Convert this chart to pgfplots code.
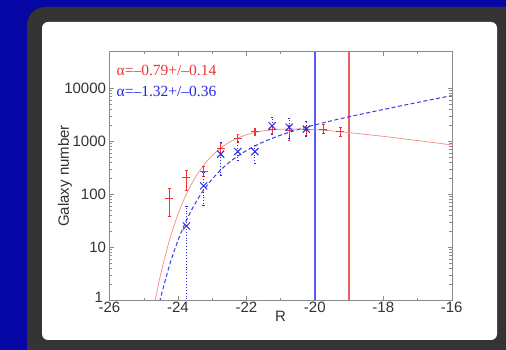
\documentclass[border=0pt]{standalone}
\usepackage{fontspec}
\setmainfont{Liberation Sans}
\newfontfamily\seriffont{Liberation Serif}
\usepackage{pgfplots}
\pgfplotsset{compat=1.18}
\definecolor{bgblue}{RGB}{6,6,165}
\definecolor{framegray}{RGB}{52,52,52}
\definecolor{pred}{RGB}{240,50,50}
\definecolor{pblue}{RGB}{40,40,225}
\definecolor{fitred}{RGB}{245,140,128}
\definecolor{fitblue}{RGB}{60,60,230}
\definecolor{lineblue}{RGB}{90,90,245}
\definecolor{linered}{RGB}{235,95,95}

\pgfplotstableread{
x y ep em
-24.25 83 46 44
-23.75 205 82 85
-23.25 266 74 52
-22.75 735 180 185
-22.25 1140 240 185
-21.75 1520 240 200
-21.25 1700 300 300
-20.75 1590 450 540
-20.25 1630 320 310
-19.75 1700 430 280
-19.25 1520 320 290
}\reddata

\pgfplotstableread{
x y ep em
-23.75 25 33 24.5
-23.25 143 112 80
-22.75 570 370 340
-22.25 635 345 190
-21.75 635 215 250
-21.25 1950 880 570
-20.75 1840 860 700
-20.25 1690 660 430
}\bluedata

\begin{document}
\begin{tikzpicture}[x=1pt,y=1pt]
\useasboundingbox (0,0) rectangle (506,350);
\fill[bgblue] (0,0) rectangle (506,350);
\fill[framegray, rounded corners=18pt] (27,-30) rectangle (540,343);
\fill[white, rounded corners=6pt] (42,10) rectangle (497,328);
\begin{axis}[
  at={(109.5pt,50pt)}, anchor=south west,
  scale only axis, width=342.2pt, height=248.3pt,
  xmin=-26, xmax=-16, ymin=1, ymax=49000, ymode=log,
  xtick={-26,-24,-22,-20,-18,-16},
  xticklabels={-26,-24,-22,-20,-18,-16},
  minor xtick={-25,-23,-21,-19,-17},
  ytick={1,10,100,1000,10000},
  yticklabels={\raisebox{6pt}{1\hspace{3pt}},10,100,1000,10000},
  tick pos=both, tick align=inside,
  major tick length=4pt, minor tick length=2.5pt,
  axis line style={black!45},
  every tick/.style={black!45},
  tick label style={font=\fontsize{15}{16}\selectfont, text=black!80},
  xticklabel style={yshift=2pt},
  xlabel={R}, ylabel={Galaxy number},
  label style={font=\fontsize{15}{16}\selectfont, text=black!80},
  xlabel style={at={(axis description cs:0.5,-0.067)}, anchor=center},
  ylabel style={at={(axis description cs:-0.130,0.5)}, anchor=center},
  clip=true,
]
\addplot[lineblue, line width=1.4pt] coordinates {(-20,1) (-20,49000)};
\addplot[linered, line width=1.4pt] coordinates {(-19,1) (-19,49000)};
\addplot[fitred, line width=0.7pt, smooth] coordinates {
(-24.8,0.33) (-24.7,0.76) (-24.5,3.15) (-24.25,13.3) (-24.0,41.5)
(-23.75,101) (-23.5,203) (-23.25,351) (-23.0,535) (-22.75,742)
(-22.5,951) (-22.25,1148) (-22.0,1319) (-21.75,1459) (-21.5,1565)
(-21.0,1682) (-20.5,1698) (-20.0,1650) (-19.5,1563) (-19.0,1455)
(-18.0,1233) (-17.0,1027) (-16.0,850)};
\addplot[fitblue, line width=1.0pt, dashed, dash pattern=on 4pt off 2.5pt, smooth] coordinates {
(-24.7,0.305) (-24.6,0.61) (-24.5,1.14) (-24.25,4.46) (-24.0,13.3)
(-23.75,32.3) (-23.5,66.2) (-23.25,119) (-23.0,192) (-22.75,286)
(-22.5,398) (-22.25,525) (-22.0,664) (-21.75,813) (-21.5,971)
(-21.0,1300) (-20.5,1651) (-20.0,2029) (-19.5,2438) (-19.0,2890)
(-18.0,3970) (-17.0,5385) (-16.0,7260)};
\addplot[pred, only marks, mark=+, mark size=4pt, mark options={line width=0.9pt},
  error bars/.cd, y dir=both, y explicit,
  error bar style={pred, line width=0.8pt},
  error mark options={pred, mark size=1.2pt, rotate=90}]
  table[x=x, y=y, y error plus=ep, y error minus=em] {\reddata};
\addplot[pblue, only marks, mark=x, mark size=5pt, mark options={line width=1.0pt},
  error bars/.cd, y dir=both, y explicit,
  error bar style={pblue, line width=0.9pt, dotted},
  error mark options={pblue, mark size=1.2pt, rotate=90, solid}]
  table[x=x, y=y, y error plus=ep, y error minus=em] {\bluedata};
\end{axis}
\node[anchor=west, text=pred, font=\seriffont\fontsize{15.5}{17}\selectfont, inner sep=0pt] at (116.5,280) {α=–0.79+/–0.14};
\node[anchor=west, text=pblue, font=\seriffont\fontsize{15.5}{17}\selectfont, inner sep=0pt] at (116.5,259) {α=–1.32+/–0.36};
\end{tikzpicture}
\end{document}
